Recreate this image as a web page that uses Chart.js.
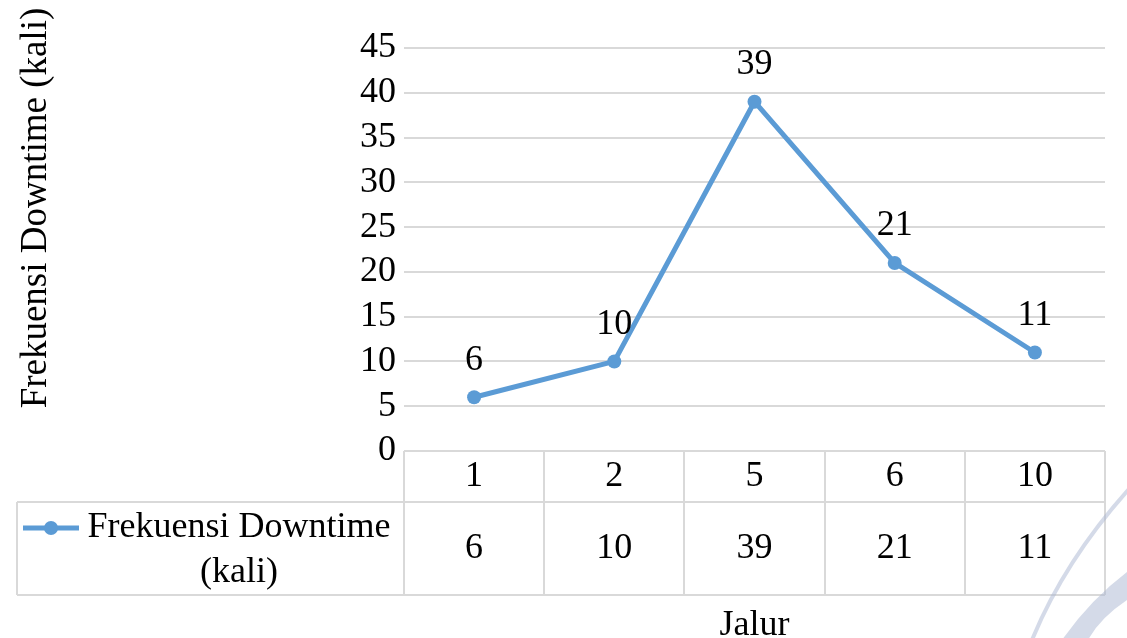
<!DOCTYPE html>
<html>
<head>
<meta charset="utf-8">
<script src="https://cdn.jsdelivr.net/npm/chart.js@4.4.1/dist/chart.umd.min.js"></script>
<style>
  html, body { margin: 0; padding: 0; background: #fff; }
  #wrap { width: 1127px; height: 638px; }
</style>
</head>
<body>
<div id="wrap"><canvas id="myChart" width="1127" height="638"></canvas></div>
<script>
// data
const jalur = ['1', '2', '5', '6', '10'];
const frekuensi = [6, 10, 39, 21, 11];
const yTicks = [0, 5, 10, 15, 20, 25, 30, 35, 40, 45];
const seriesName = ['Frekuensi Downtime', '(kali)'];
const yTitle = 'Frekuensi Downtime (kali)';
const xTitle = 'Jalur';

const serif = '"Liberation Serif", "Times New Roman", serif';
const blue = '#5b9bd5';
const gridGrey = '#d9d9d9';
const fontPx = 36;

// table + labels drawn after the chart
const tablePlugin = {
    id: 'tablePlugin',
    afterDraw(chart) {
        const ctx = chart.ctx;
        const xs = chart.scales.x;
        const ys = chart.scales.y;
        const area = chart.chartArea;
        const band = (area.right - area.left) / jalur.length;
        const rowTop = area.bottom;
        const rowMid = rowTop + 51;
        const rowBot = rowTop + 144;
        const legLeft = 17;

        ctx.save();
        ctx.strokeStyle = gridGrey;
        ctx.lineWidth = 2;
        ctx.beginPath();
        // vertical lines of the table
        for (let i = 0; i <= jalur.length; i++) {
            const x = Math.round(area.left + band * i);
            ctx.moveTo(x, rowTop);
            ctx.lineTo(x, rowBot);
        }
        ctx.moveTo(legLeft, rowMid);
        ctx.lineTo(legLeft, rowBot);
        ctx.moveTo(legLeft, rowMid);
        ctx.lineTo(area.right, rowMid);
        ctx.moveTo(legLeft, rowBot);
        ctx.lineTo(area.right, rowBot);
        ctx.stroke();

        ctx.fillStyle = '#000';
        ctx.font = fontPx + 'px ' + serif;
        ctx.textAlign = 'center';
        ctx.textBaseline = 'middle';
        jalur.forEach((lab, i) => {
            const x = xs.getPixelForValue(i);
            ctx.fillText(lab, x, rowTop + 26);
            ctx.fillText(String(frekuensi[i]), x, rowMid + 47);
            // data labels above points
            const py = ys.getPixelForValue(frekuensi[i]);
            ctx.fillText(String(frekuensi[i]), x, py - 37);
        });

        // legend in the table
        ctx.strokeStyle = blue;
        ctx.lineWidth = 5;
        ctx.beginPath();
        ctx.moveTo(23, rowMid + 26);
        ctx.lineTo(79, rowMid + 26);
        ctx.stroke();
        ctx.fillStyle = blue;
        ctx.beginPath();
        ctx.arc(51, rowMid + 26, 7, 0, Math.PI * 2);
        ctx.fill();
        ctx.fillStyle = '#000';
        ctx.fillText(seriesName[0], 239, rowMid + 26);
        ctx.fillText(seriesName[1], 239, rowMid + 71);

        // axis titles
        ctx.fillText(xTitle, xs.getPixelForValue(2), 626);
        ctx.font = '37px ' + serif;
        ctx.translate(36, 208);
        ctx.rotate(-Math.PI / 2);
        ctx.fillText(yTitle, 0, 0);
        ctx.restore();

        // faint watermark swoosh
        ctx.save();
        ctx.strokeStyle = 'rgba(170,182,210,0.5)';
        ctx.lineWidth = 4;
        ctx.beginPath();
        ctx.moveTo(1032, 640);
        ctx.quadraticCurveTo(1065, 560, 1130, 488);
        ctx.stroke();
        ctx.fillStyle = 'rgba(170,182,210,0.5)';
        ctx.beginPath();
        ctx.moveTo(1062, 640);
        ctx.quadraticCurveTo(1090, 600, 1127, 572);
        ctx.lineTo(1127, 600);
        ctx.quadraticCurveTo(1100, 618, 1088, 640);
        ctx.closePath();
        ctx.fill();
        ctx.restore();
    }
};

const ctx = document.getElementById('myChart').getContext('2d');
const chart = new Chart(ctx, {
    type: 'line',
    data: {
        labels: jalur,
        datasets: [{
            label: seriesName.join(' '),
            data: frekuensi,
            borderColor: blue,
            backgroundColor: blue,
            borderWidth: 5,
            pointRadius: 7,
            pointBackgroundColor: blue,
            pointBorderWidth: 0,
            tension: 0
        }]
    },
    options: {
        responsive: false,
        animation: false,
        layout: { padding: { top: 48, right: 22, bottom: 187, left: 0 } },
        plugins: {
            legend: { display: false },
            tooltip: { enabled: false }
        },
        scales: {
            x: {
                display: false,
                offset: true
            },
            y: {
                min: 0,
                max: 45,
                afterFit: function (scale) { scale.width = 404; },
                afterBuildTicks: function (scale) {
                    scale.ticks = yTicks.map(v => ({ value: v }));
                },
                border: { display: false },
                grid: { color: gridGrey, lineWidth: 2, drawTicks: false },
                ticks: {
                    color: '#000',
                    padding: 8,
                    autoSkip: false,
                    font: { family: serif, size: fontPx }
                }
            }
        }
    },
    plugins: [tablePlugin]
});
</script>
</body>
</html>
